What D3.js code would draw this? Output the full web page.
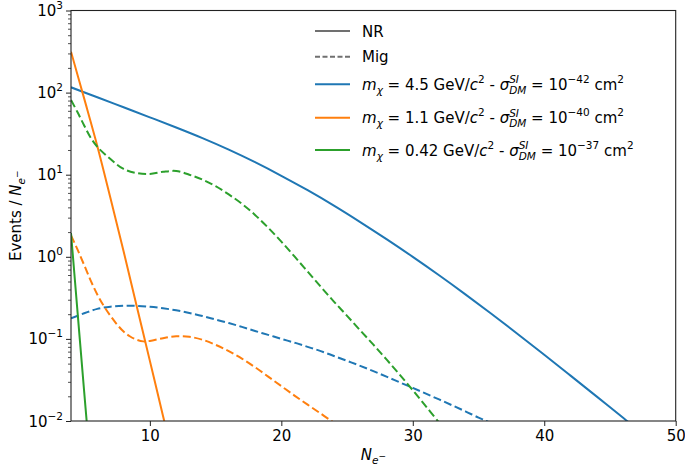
<!DOCTYPE html>
<html><head><meta charset="utf-8">
<script src="https://cdn.jsdelivr.net/npm/d3@7"></script>
<style>
body{margin:0;background:#fff}
text{font-family:"DejaVu Sans",sans-serif;white-space:pre;fill:#000}
</style>
</head><body><svg id="c" width="685" height="467"></svg>
<script>
// ---- data ----
const xTicks = [10, 20, 30, 40, 50];
const yTickVals = [1e-2, 1e-1, 1, 10, 100, 1000];
const yTickExp = ["−2", "−1", "0", "1", "2", "3"];

const blueNR_N = [4, 6, 8, 10, 12, 14, 16, 18, 20, 22, 24, 26, 28, 30, 32, 34, 36, 38, 40, 42, 44, 46, 46.4, 47];
const blueNR_V = [116, 87.7, 66.2, 50.0, 37.6, 27.9, 20.2, 14.2, 9.70, 6.47, 4.20, 2.65, 1.64, 0.998, 0.596, 0.349, 0.201, 0.114, 0.0641, 0.0357, 0.0198, 0.01094, 0.0097, 0.0081];

const blueMig_N = [4, 5, 6, 7, 8, 9, 10, 11, 12, 13, 14, 15, 16, 17, 18, 19, 20, 21, 22, 23, 24, 25, 26, 27, 28, 29, 30, 31, 32, 33, 34, 35, 35.6, 36];
const blueMig_V = [0.178, 0.205, 0.232, 0.247, 0.253, 0.252, 0.246, 0.236, 0.223, 0.207, 0.19, 0.172, 0.156, 0.14, 0.125, 0.112, 0.100, 0.090, 0.080, 0.071, 0.062, 0.054, 0.047, 0.0405, 0.0347, 0.0296, 0.0253, 0.0215, 0.0183, 0.0155, 0.0131, 0.0110, 0.0100, 0.0093];

const orangeNR_N = [4, 5, 6, 7, 8, 9, 10, 11, 11.3];
const orangeNR_V = [315, 85, 22.4, 5.2, 1.17, 0.25, 0.054, 0.0115, 0.0073];

const orangeMig_N = [4, 4.5, 5, 5.5, 6, 6.5, 7, 7.5, 8, 8.5, 9, 9.5, 10, 11, 12, 13, 14, 15, 16, 17, 18, 19, 20, 21, 22, 23, 23.9, 24.3];
const orangeMig_V = [1.82, 1.22, 0.794, 0.513, 0.347, 0.251, 0.191, 0.150, 0.123, 0.107, 0.0977, 0.0933, 0.0944, 0.102, 0.1076, 0.106, 0.0977, 0.0847, 0.0708, 0.0575, 0.0452, 0.0347, 0.0266, 0.0204, 0.0158, 0.0123, 0.0098, 0.0089];

const greenNR_N = [4, 4.5, 5, 5.3];
const greenNR_V = [1.95, 0.21, 0.023, 0.0062];

const greenMig_N = [4, 4.5, 5, 5.5, 6, 7, 8, 9, 10, 11, 12, 13, 14, 15, 16, 17, 18, 19, 20, 21, 22, 23, 24, 25, 26, 27, 28, 29, 30, 31, 32, 32.4];
const greenMig_V = [81.3, 57.5, 39.8, 28.2, 21.9, 15.5, 11.75, 10.47, 10.23, 10.84, 11.09, 10.0, 8.71, 7.24, 5.75, 4.42, 3.24, 2.26, 1.53, 1.01, 0.661, 0.432, 0.285, 0.191, 0.127, 0.0851, 0.0562, 0.0367, 0.0237, 0.0151, 0.00955, 0.0079];

const legendStyles = ["NR", "Mig"];
const legendMass = ["4.5", "1.1", "0.42"];
const legendExp = ["−42", "−40", "−37"];
const colors = ["#1f77b4", "#ff7f0e", "#2ca02c"];

// ---- layout ----
const svg = d3.select("#c");
const L = 71, R = 675.7, T = 10.5, B = 421;
const x = d3.scaleLinear().domain([4, 50]).range([L, R]);
const y = d3.scaleLog().domain([1e-2, 1e3]).range([B, T]);
const FS = 15, SS = 10.5;

svg.append("defs").append("clipPath").attr("id", "clip")
  .append("rect").attr("x", L).attr("y", T).attr("width", R - L).attr("height", B - T);

function rich(parent, x0, y0, segs) {
  let cx = x0;
  segs.forEach(s => {
    const size = s.size || FS;
    if (s.stack) {
      const a = parent.append("text").attr("x", cx).attr("y", y0 - 6.5)
        .style("font-size", SS + "px").style("font-style", "italic").text(s.stack[0]);
      const b = parent.append("text").attr("x", cx).attr("y", y0 + 4)
        .style("font-size", SS + "px").style("font-style", "italic").text(s.stack[1]);
      cx += Math.max(a.node().getComputedTextLength(), b.node().getComputedTextLength());
    } else {
      const t = parent.append("text").attr("x", cx).attr("y", y0 + (s.dy || 0))
        .style("font-size", size + "px").style("font-style", s.it ? "italic" : "normal").text(s.t);
      cx += t.node().getComputedTextLength() + (s.after || 0);
    }
  });
  return cx - x0;
}

// ---- curves ----
const line = d3.line().x(d => x(d[0])).y(d => y(d[1])).curve(d3.curveCatmullRom.alpha(0.5));
const plot = svg.append("g").attr("clip-path", "url(#clip)");
const series = [
  [blueNR_N, blueNR_V, 0, false], [blueMig_N, blueMig_V, 0, true],
  [orangeNR_N, orangeNR_V, 1, false], [orangeMig_N, orangeMig_V, 1, true],
  [greenNR_N, greenNR_V, 2, false], [greenMig_N, greenMig_V, 2, true]
];
series.forEach(([ns, vs, ci, dashed]) => {
  plot.append("path").datum(ns.map((n, i) => [n, vs[i]]))
    .attr("d", line).attr("fill", "none").attr("stroke", colors[ci])
    .attr("stroke-width", 2).attr("stroke-dasharray", dashed ? "8,3.5" : null);
});

// ---- axes ----
svg.append("rect").attr("x", L).attr("y", T).attr("width", R - L).attr("height", B - T)
  .attr("fill", "none").attr("stroke", "#222").attr("stroke-width", 1.1);

const xAxis = d3.axisBottom(x).tickValues(xTicks).tickSize(5).tickPadding(4).tickFormat(d3.format("d"));
const gx = svg.append("g").attr("transform", `translate(0,${B})`).call(xAxis);
gx.select(".domain").remove();
gx.selectAll("line").attr("stroke", "#222");
gx.selectAll("text").style("font-size", FS + "px").style("font-family", "DejaVu Sans").attr("fill", "#000");

const minor = [];
for (let d = -2; d < 3; d++) for (let k = 2; k <= 9; k++) minor.push(k * Math.pow(10, d));
const gym = svg.append("g").attr("transform", `translate(${L},0)`)
  .call(d3.axisLeft(y).tickValues(minor).tickSize(3).tickFormat(""));
gym.select(".domain").remove();
gym.selectAll("line").attr("stroke", "#222").attr("stroke-width", 0.8);
const gyM = svg.append("g").attr("transform", `translate(${L},0)`)
  .call(d3.axisLeft(y).tickValues(yTickVals).tickSize(5).tickFormat(""));
gyM.select(".domain").remove();
gyM.selectAll("line").attr("stroke", "#222");

yTickVals.forEach((v, i) => {
  const g = svg.append("g");
  const w = rich(g, 0, 0, [{t: "10"}, {t: yTickExp[i], size: SS, dy: -7}]);
  g.attr("transform", `translate(${L - 8 - w},${y(v) + 5.5})`);
});

// axis labels
{
  const g = svg.append("g");
  const w = rich(g, 0, 0, [{t: "N", it: true}, {t: "e", it: true, size: SS, dy: 4}, {t: "−", size: 9, dy: -1}]);
  g.attr("transform", `translate(${(L + R) / 2 - w / 2},${460})`);
}
{
  const g = svg.append("g");
  const w = rich(g, 0, 0, [{t: "Events / "}, {t: "N", it: true}, {t: "e", it: true, size: SS, dy: 4}, {t: "−", size: 9, dy: -1}]);
  g.attr("transform", `translate(${21},${(T + B) / 2 + w / 2}) rotate(-90)`);
}

// ---- legend ----
const lg = svg.append("g");
const rowsY = [31, 56.7, 84.3, 117.7, 150];
const hx0 = 315, hx1 = 350, tx = 362;
legendStyles.forEach((s, i) => {
  lg.append("line").attr("x1", hx0).attr("x2", hx1).attr("y1", rowsY[i]).attr("y2", rowsY[i])
    .attr("stroke", "#707070").attr("stroke-width", 2).attr("stroke-dasharray", i === 1 ? "5,2.5" : null);
  lg.append("text").attr("x", tx).attr("y", rowsY[i] + 5.5).style("font-size", FS + "px").text(s);
});
legendMass.forEach((mass, i) => {
  const yy = rowsY[i + 2];
  lg.append("line").attr("x1", hx0).attr("x2", hx1).attr("y1", yy).attr("y2", yy)
    .attr("stroke", colors[i]).attr("stroke-width", 2);
  rich(lg, tx, yy + 5.5, [
    {t: "m", it: true}, {t: "χ", it: true, size: SS, dy: 4},
    {t: " = " + mass + " GeV/"}, {t: "c", it: true}, {t: "2", size: SS, dy: -7},
    {t: " - "}, {t: "σ", it: true}, {stack: ["SI", "DM"]},
    {t: " = 10"}, {t: legendExp[i], size: SS, dy: -7}, {t: " cm"}, {t: "2", size: SS, dy: -7}
  ]);
});
</script>
</body></html>
